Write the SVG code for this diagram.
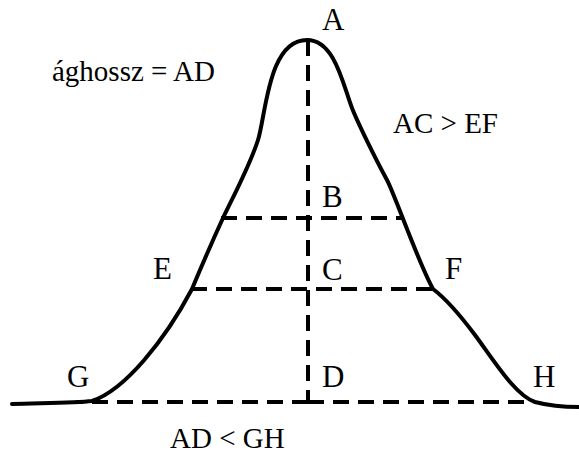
<svg xmlns="http://www.w3.org/2000/svg" width="579" height="454" viewBox="0 0 579 454">
<style>
.curve{fill:none;stroke:#000;stroke-width:4;stroke-linecap:round;stroke-linejoin:round}
.dash{fill:none;stroke:#000;stroke-width:4;stroke-dasharray:16 9}
.lbl{font-family:"Liberation Serif","Times New Roman",serif;font-size:31px;fill:#000}
.txt{font-family:"Liberation Serif","Times New Roman",serif;font-size:29px;fill:#000}
</style>
<rect width="579" height="454" fill="#fff"/>
<g id="connectors">
<path class="dash" d="M308 40 V402"/>
<path class="dash" d="M221 218 H402"/>
<path class="dash" d="M191 289 H434"/>
<path class="dash" d="M308 402 H532"/>
<path class="dash" d="M308 402 H76"/>
</g>
<g id="curve">
<path class="curve" d="M12 404 C40 403 75 403 92 401 C125 390 165 340 192 289 C202 265 212 242 223 218 C235 193 250 165 258 140 C266 115 268 40 307 40 C335 40 343 85 352 108 C357 121 375 158 387 180 C395 195 418 262 433 289 C445 298 460 315 475 335 C495 362 515 395 535 402 C550 406 565 407 579 407"/>
</g>
<g id="labels">
<text class="lbl" x="322" y="30">A</text>
<text class="lbl" x="322" y="207">B</text>
<text class="lbl" x="322" y="280">C</text>
<text class="lbl" x="322" y="387">D</text>
<text class="lbl" x="153" y="279">E</text>
<text class="lbl" x="445" y="279">F</text>
<text class="lbl" x="67" y="387">G</text>
<text class="lbl" x="533" y="387">H</text>
</g>
<g id="notes">
<text class="txt" x="52" y="81">ághossz = AD</text>
<text class="txt" x="393" y="133">AC &gt; EF</text>
<text class="txt" x="170" y="448">AD &lt; GH</text>
</g>
</svg>
